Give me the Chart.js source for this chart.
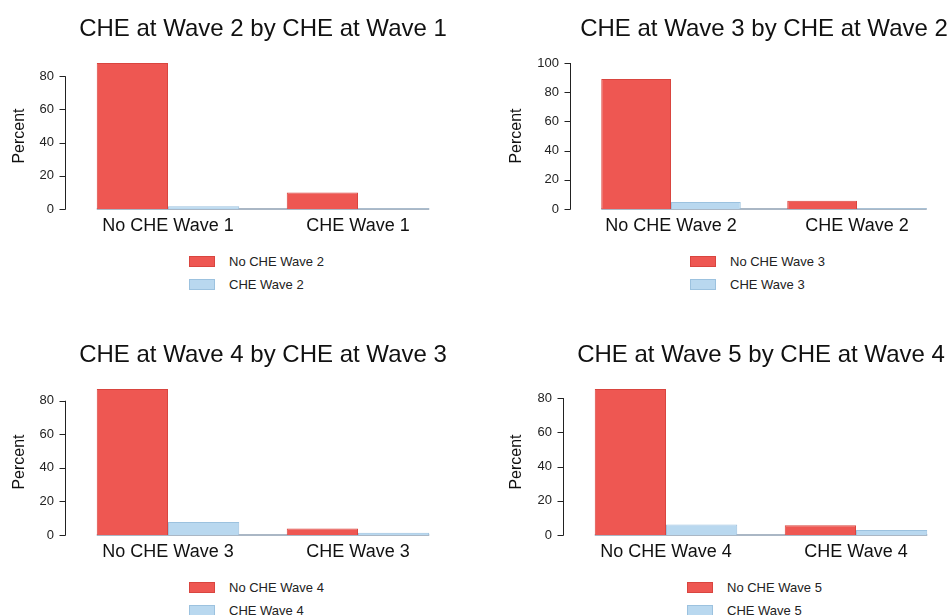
<!DOCTYPE html>
<html><head><meta charset="utf-8">
<script src="https://cdn.jsdelivr.net/npm/chart.js@4.4.1/dist/chart.umd.min.js"></script>
<style>
html,body{margin:0;padding:0;background:#fff;width:950px;height:615px;overflow:hidden;position:relative;font-family:"Liberation Sans",Arial,Helvetica,sans-serif;}
canvas{position:absolute;}
.legend{position:absolute;font-size:13px;color:#222;}
.legend .item{position:absolute;left:0;display:flex;align-items:center;white-space:nowrap;height:12px;}
.legend .box{width:24px;height:9px;border:1px solid;margin-right:14px;}
</style></head><body>
<script>
// ---- data ----
const panelTitles = [
  'CHE at Wave 2 by CHE at Wave 1',
  'CHE at Wave 3 by CHE at Wave 2',
  'CHE at Wave 4 by CHE at Wave 3',
  'CHE at Wave 5 by CHE at Wave 4'
];
const categories = [
  ['No CHE Wave 1', 'CHE Wave 1'],
  ['No CHE Wave 2', 'CHE Wave 2'],
  ['No CHE Wave 3', 'CHE Wave 3'],
  ['No CHE Wave 4', 'CHE Wave 4']
];
const noCheLabels = ['No CHE Wave 2', 'No CHE Wave 3', 'No CHE Wave 4', 'No CHE Wave 5'];
const cheLabels = ['CHE Wave 2', 'CHE Wave 3', 'CHE Wave 4', 'CHE Wave 5'];
const noCheValues = [[88.0, 10.0], [89.0, 5.7], [87.0, 3.8], [85.3, 5.7]];
const cheValues = [[1.7, 0.3], [4.8, 0.5], [7.8, 1.4], [6.1, 2.9]];
const yAxisMax = [88.0, 100, 87.0, 85.3];
const yTickStep = 20;
const yAxisTitle = 'Percent';

// ---- layout / style ----
const FONT = '"Liberation Sans", Arial, Helvetica, sans-serif';
const panelLayout = [
  {x: 0,   y: 0,   w: 453, yTitlePad: 10},
  {x: 505, y: 0,   w: 445, yTitlePad: 1.5},
  {x: 0,   y: 326, w: 453, yTitlePad: 10},
  {x: 498, y: 326, w: 453, yTitlePad: 8.5}
];
const RED = '#ee5752', RED_EDGE = '#d9453f';
const BLUE = '#b9d8ef', BLUE_EDGE = '#9cc2df';

Chart.defaults.font.family = FONT;

const axisPlugin = {
  id: 'stataAxis',
  beforeDatasetsDraw(chart) {
    const ctx = chart.ctx, ys = chart.scales.y;
    const m0 = chart.getDatasetMeta(0), m1 = chart.getDatasetMeta(1);
    const first = m0.data[0], last = m1.data[m1.data.length - 1];
    const y0 = ys.getPixelForValue(0);
    ctx.save();
    ctx.strokeStyle = '#8e9fb2';
    ctx.lineWidth = 1.5;
    ctx.beginPath();
    ctx.moveTo(first.x - first.width / 2, y0);
    ctx.lineTo(last.x + last.width / 2, y0);
    ctx.stroke();
    ctx.restore();
  },
  afterDraw(chart) {
    const ctx = chart.ctx, ys = chart.scales.y;
    const ax = Math.round(chart.chartArea.left - 8) + 0.5;
    const ticks = ys.ticks;
    const yb = ys.getPixelForValue(ticks[0].value);
    const yt = ys.getPixelForValue(ticks[ticks.length - 1].value);
    ctx.save();
    ctx.strokeStyle = '#222';
    ctx.lineWidth = 1;
    ctx.beginPath();
    ctx.moveTo(ax, yb + 0.5);
    ctx.lineTo(ax, yt);
    ticks.forEach(t => {
      const py = Math.round(ys.getPixelForValue(t.value)) + 0.5;
      ctx.moveTo(ax - 6, py);
      ctx.lineTo(ax, py);
    });
    ctx.stroke();
    ctx.restore();
  }
};

panelTitles.forEach((title, i) => {
  const L = panelLayout[i];
  const cv = document.createElement('canvas');
  cv.width = L.w; cv.height = 250;
  cv.style.left = L.x + 'px'; cv.style.top = L.y + 'px';
  cv.style.width = L.w + 'px'; cv.style.height = '250px';
  document.body.appendChild(cv);
  const chart = new Chart(cv, {
    type: 'bar',
    data: {
      labels: categories[i],
      datasets: [
        {label: noCheLabels[i], data: noCheValues[i], backgroundColor: RED, borderColor: RED_EDGE, borderWidth: 1,
         barPercentage: 1, categoryPercentage: 0.75},
        {label: cheLabels[i], data: cheValues[i], backgroundColor: BLUE, borderColor: BLUE_EDGE, borderWidth: 1,
         barPercentage: 1, categoryPercentage: 0.75}
      ]
    },
    options: {
      responsive: false, animation: false, devicePixelRatio: 1,
      layout: {padding: {left: 0, right: 0, top: 0, bottom: 0}},
      plugins: {
        legend: {display: false},
        tooltip: {enabled: false},
        title: {display: true, text: title, color: '#111', fullSize: false,
                font: {family: FONT, size: 24, weight: 'normal'},
                padding: {top: 15, bottom: 19.2}}
      },
      scales: {
        x: {
          grid: {display: false, drawTicks: false},
          border: {display: false},
          ticks: {font: {family: FONT, size: 18}, color: '#111', padding: 6},
          afterFit(s) { s.height = 41; }
        },
        y: {
          min: 0, max: yAxisMax[i],
          grid: {display: false, drawTicks: false},
          border: {display: false},
          ticks: {stepSize: yTickStep, includeBounds: false, font: {family: FONT, size: 13}, color: '#222', padding: 19},
          title: {display: true, text: yAxisTitle, color: '#111', font: {family: FONT, size: 16},
                  padding: {top: L.yTitlePad, bottom: 0}},
          afterFit(s) { s.width = 73; }
        }
      }
    },
    plugins: [axisPlugin]
  });
  // legend (vertical, left-aligned like the original)
  const area = chart.chartArea;
  const lg = document.createElement('div');
  lg.className = 'legend';
  lg.style.left = (L.x + (area.left + area.right) / 2 - 74) + 'px';
  lg.style.top = (L.y + 255) + 'px';
  chart.data.datasets.forEach((ds, k) => {
    const it = document.createElement('div');
    it.className = 'item';
    it.style.top = (k * 23) + 'px';
    const b = document.createElement('span');
    b.className = 'box';
    b.style.background = ds.backgroundColor;
    b.style.borderColor = ds.borderColor;
    const t = document.createElement('span');
    t.textContent = ds.label;
    it.appendChild(b); it.appendChild(t);
    lg.appendChild(it);
  });
  document.body.appendChild(lg);
});
</script>
</body></html>
